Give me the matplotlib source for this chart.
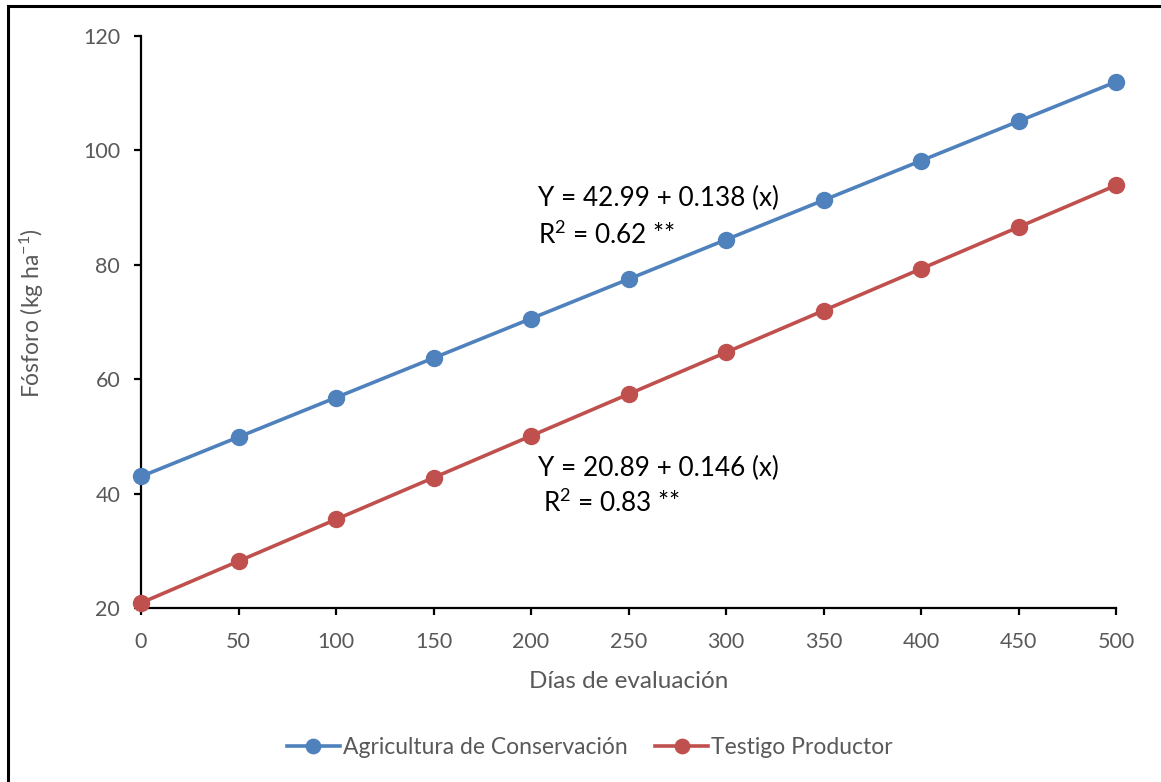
import matplotlib
matplotlib.use("Agg")
import matplotlib.pyplot as plt
from matplotlib.patches import Rectangle

days = [0, 50, 100, 150, 200, 250, 300, 350, 400, 450, 500]
conservacion = [42.99, 49.89, 56.79, 63.69, 70.59, 77.49, 84.39, 91.29, 98.19, 105.09, 111.99]
testigo = [20.89, 28.19, 35.49, 42.79, 50.09, 57.39, 64.69, 71.99, 79.29, 86.59, 93.89]
yticks = [20, 40, 60, 80, 100, 120]
xticks = [0, 50, 100, 150, 200, 250, 300, 350, 400, 450, 500]

plt.rcParams['font.family'] = ['Lato', 'DejaVu Sans']
plt.rcParams['mathtext.fontset'] = 'custom'
plt.rcParams['mathtext.rm'] = 'Lato'
plt.rcParams['mathtext.default'] = 'regular'

W, H = 1161, 782
fig = plt.figure(figsize=(W/100, H/100), dpi=100)
ax = fig.add_axes([141/W, 1-608/H, (1116-141)/W, (608-36)/H])

blue = '#4F81BD'
red = '#C0504D'
grey = '#595959'

l1, = ax.plot(days, conservacion, color=blue, lw=2.6, marker='o', ms=11.5, label='Agricultura de Conservación', clip_on=False, zorder=3)
l2, = ax.plot(days, testigo, color=red, lw=2.6, marker='o', ms=11.5, label='Testigo Productor', clip_on=False, zorder=3)

ax.set_xlim(0, 500)
ax.set_ylim(20, 120)
ax.set_xticks(xticks)
ax.set_yticks(yticks)
for s in ['top', 'right']:
    ax.spines[s].set_visible(False)
for s in ['left', 'bottom']:
    ax.spines[s].set_linewidth(1.6)
    ax.spines[s].set_color('black')
ax.tick_params(axis='both', direction='out', length=5, width=1.6, colors='black', labelcolor=grey, labelsize=15.5)
ax.tick_params(axis='x', pad=12)
ax.tick_params(axis='y', pad=10)

ax.set_xlabel('Días de evaluación', fontsize=17.5, color=grey, labelpad=14)
ax.set_ylabel('Fósforo (kg ha$^{-1}$)', fontsize=16.5, color=grey)
ax.yaxis.set_label_coords((46 - 141) / (1116 - 141), 0.516)

eq_fs = 18.8
fig.text(538/W, 1-198/H, 'Y = 42.99 + 0.138 (x)', fontsize=eq_fs, color='black', va='center', ha='left')
fig.text(538/W, 1-235/H, 'R$^{2}$ = 0.62 **', fontsize=eq_fs, color='black', va='center', ha='left')
fig.text(538/W, 1-468/H, 'Y = 20.89 + 0.146 (x)', fontsize=eq_fs, color='black', va='center', ha='left')
fig.text(543/W, 1-503/H, 'R$^{2}$ = 0.83 **', fontsize=eq_fs, color='black', va='center', ha='left')

fig.legend(handles=[l1, l2], loc='center', bbox_to_anchor=(590/W, 1-748/H), ncol=2, frameon=False,
           fontsize=16.5, labelcolor=grey, handlelength=2.3, handletextpad=0.15, columnspacing=1.2, markerscale=0.9)

fig.add_artist(Rectangle((8/W, -0.1), 1.2, (1-6/H)+0.1, transform=fig.transFigure, fill=False,
                         edgecolor='black', lw=2.2))

fig.savefig('out.png', dpi=100)
